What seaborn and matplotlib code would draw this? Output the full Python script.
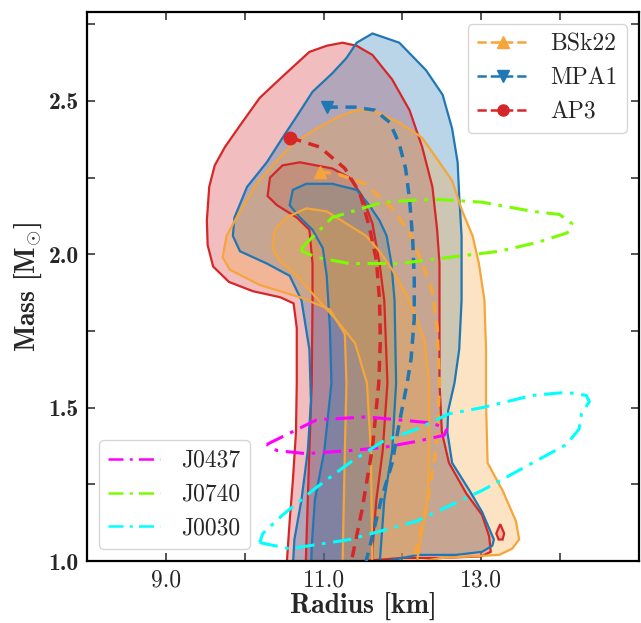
import numpy as np
import pandas as pd
import matplotlib
matplotlib.use("Agg")
import matplotlib.pyplot as plt
import seaborn as sns

# ---------------- data ----------------
# Posterior contours (outer = 95%, inner = 68%), radius [km] / mass [Msun]
red_outer_R = [10.53, 10.57, 10.61, 10.65, 10.66, 10.66, 10.62, 10.45, 10.10, 9.80, 9.60, 9.53, 9.52, 9.55,
               9.62, 9.75, 9.94, 10.19, 10.48, 10.82, 11.04, 11.24, 11.42, 11.62, 11.87, 12.09, 12.25,
               12.38, 12.44, 12.47, 12.47, 12.47, 12.50, 12.59, 12.81, 13.01, 13.10, 13.12, 13.00,
               12.50, 12.00, 11.50, 11.00]
red_outer_M = [0.98, 1.13, 1.26, 1.42, 1.58, 1.76, 1.84, 1.86, 1.88, 1.91, 1.96, 2.03, 2.11, 2.22,
               2.29, 2.35, 2.42, 2.51, 2.58, 2.66, 2.68, 2.69, 2.68, 2.65, 2.57, 2.47, 2.35,
               2.22, 2.08, 1.97, 1.76, 1.58, 1.42, 1.32, 1.22, 1.15, 1.08, 1.03, 1.015,
               1.01, 1.01, 1.00, 0.98]
red_blob_R = [13.19, 13.24, 13.29, 13.27, 13.22]
red_blob_M = [1.09, 1.12, 1.09, 1.07, 1.07]
red_inner_R = [10.70, 10.48, 10.32, 10.29, 10.41, 10.66, 10.82, 10.86, 10.86, 10.85, 10.82, 10.80, 10.78,
               10.77, 11.62, 11.62, 11.67, 11.75, 11.81, 11.77, 11.71, 11.62, 11.49, 11.33, 11.11]
red_inner_M = [2.30, 2.29, 2.25, 2.19, 2.16, 2.12, 2.08, 1.97, 1.85, 1.58, 1.36, 1.20, 1.04,
               0.95, 0.95, 1.04, 1.20, 1.36, 1.58, 1.85, 1.97, 2.10, 2.19, 2.25, 2.28]

blue_outer_R = [10.61, 10.63, 10.72, 10.80, 10.84, 10.82, 10.72, 10.57, 10.28, 9.94, 9.85, 9.87, 10.03,
                10.28, 10.48, 10.66, 10.86, 11.11, 11.29, 11.42, 11.62, 11.96, 12.30, 12.51, 12.63,
                12.70, 12.72, 12.75, 12.75, 12.72, 12.66, 12.58, 12.57, 12.63, 12.85, 13.01, 13.16,
                13.14, 13.01, 12.68, 12.20, 11.80, 11.00]
blue_outer_M = [0.98, 1.07, 1.20, 1.36, 1.52, 1.69, 1.85, 1.93, 1.97, 2.01, 2.06, 2.12, 2.22,
                2.30, 2.38, 2.45, 2.53, 2.59, 2.64, 2.69, 2.72, 2.69, 2.60, 2.52, 2.41,
                2.30, 2.19, 2.06, 1.85, 1.69, 1.58, 1.49, 1.42, 1.32, 1.23, 1.16, 1.07,
                1.05, 1.03, 1.02, 1.02, 1.00, 0.98]
blue_inner_R = [10.78, 10.61, 10.57, 10.70, 10.86, 10.99, 11.04, 11.08, 11.10, 11.01, 10.89, 10.85, 10.84,
                11.70, 11.77, 11.87, 11.92, 11.90, 11.86, 11.80, 11.71, 11.58, 11.42, 11.11]
blue_inner_M = [2.23, 2.21, 2.16, 2.12, 2.08, 2.02, 1.93, 1.76, 1.58, 1.36, 1.20, 1.05, 0.95,
                0.95, 1.20, 1.36, 1.58, 1.85, 1.97, 2.06, 2.11, 2.16, 2.21, 2.23]

orange_outer_R = [11.24, 11.27, 11.29, 11.27, 11.08, 10.70, 10.19, 9.81, 9.72, 9.77, 9.94, 10.15, 10.35,
                  10.61, 10.91, 11.20, 11.42, 11.62, 11.96, 12.25, 12.47, 12.63, 12.76, 12.89, 12.97,
                  13.04, 13.06, 13.06, 13.08, 13.27, 13.44, 13.48, 13.39, 13.23, 12.50, 11.80]
orange_outer_M = [0.98, 1.36, 1.58, 1.74, 1.82, 1.86, 1.90, 1.95, 1.99, 2.06, 2.14, 2.23, 2.29,
                  2.36, 2.41, 2.45, 2.47, 2.47, 2.43, 2.38, 2.30, 2.24, 2.14, 2.06, 1.97,
                  1.85, 1.69, 1.52, 1.32, 1.23, 1.13, 1.07, 1.04, 1.02, 1.01, 0.98]
orange_inner_R = [11.62, 11.60, 11.55, 11.40, 11.15, 10.90, 10.66, 10.44, 10.35, 10.38, 10.53, 10.78, 11.04,
                  11.29, 11.54, 11.71, 11.87, 12.09, 12.28, 12.34, 12.34, 12.32, 12.22, 12.15]
orange_inner_M = [0.95, 1.36, 1.58, 1.71, 1.79, 1.86, 1.93, 1.98, 2.02, 2.08, 2.12, 2.15, 2.14,
                  2.10, 2.06, 2.01, 1.95, 1.85, 1.72, 1.58, 1.36, 1.20, 1.05, 0.95]

# EOS mass-radius curves (first point = maximum mass, where the marker sits)
bsk22_R = [10.95, 11.20, 11.52, 11.87, 12.09, 12.25, 12.38, 12.44, 12.47, 12.43, 12.30, 12.18, 12.15]
bsk22_M = [2.27, 2.26, 2.23, 2.15, 2.07, 1.97, 1.88, 1.76, 1.58, 1.37, 1.17, 1.04, 1.00]
mpa1_R = [11.04, 11.39, 11.65, 11.84, 11.96, 12.04, 12.09, 12.13, 12.15, 12.15, 12.11, 12.06, 11.96,
          11.87, 11.73, 11.58, 11.54]
mpa1_M = [2.48, 2.48, 2.47, 2.43, 2.36, 2.28, 2.18, 2.05, 1.92, 1.79, 1.66, 1.58, 1.45,
          1.32, 1.20, 1.04, 1.00]
ap3_R = [10.58, 10.95, 11.27, 11.46, 11.58, 11.67, 11.71, 11.72, 11.70, 11.62, 11.49, 11.37, 11.35]
ap3_M = [2.38, 2.35, 2.28, 2.20, 2.09, 1.98, 1.85, 1.72, 1.58, 1.37, 1.17, 1.02, 1.00]

# NICER pulsar credible regions
j0437_R = [10.28, 10.91, 11.54, 11.96, 12.38, 12.56, 12.53, 12.18, 11.75, 11.33, 10.78, 10.41, 10.28]
j0437_M = [1.38, 1.46, 1.47, 1.46, 1.45, 1.43, 1.41, 1.39, 1.37, 1.36, 1.35, 1.36, 1.38]
j0740_R = [10.72, 11.11, 11.75, 12.38, 13.01, 13.65, 13.99, 14.15, 14.09, 13.73, 13.23, 12.59, 11.96,
           11.33, 10.91, 10.73, 10.72]
j0740_M = [2.02, 2.12, 2.17, 2.18, 2.17, 2.14, 2.13, 2.10, 2.07, 2.04, 2.01, 1.99, 1.97,
           1.97, 1.99, 2.01, 2.02]
j0030_R = [10.19, 10.57, 11.33, 12.18, 13.01, 13.65, 14.08, 14.24, 14.27, 14.37, 14.33, 14.08, 13.65,
           13.01, 12.59, 12.18, 11.75, 11.33, 10.91, 10.48, 10.23, 10.19]
j0030_M = [1.06, 1.04, 1.07, 1.13, 1.23, 1.32, 1.38, 1.43, 1.48, 1.52, 1.54, 1.55, 1.54,
           1.50, 1.48, 1.43, 1.39, 1.32, 1.24, 1.15, 1.09, 1.06]

x_ticks = [9, 10, 11, 12, 13, 14]
x_ticklabels = ["9.0", "", "11.0", "", "13.0", ""]
y_ticks = [1.0, 1.25, 1.5, 1.75, 2.0, 2.25, 2.5, 2.75]
y_ticklabels = ["1.0", "", "1.5", "", "2.0", "", "2.5", ""]

# ---------------- style ----------------
sns.set_theme(style="ticks")
plt.rcParams.update({
    "font.family": ["serif"],
    "font.serif": ["cmr10", "DejaVu Serif"],
    "mathtext.fontset": "cm",
    "axes.unicode_minus": False,
    "axes.formatter.use_mathtext": True,
    "xtick.direction": "in",
    "ytick.direction": "in",
    "xtick.top": True,
    "ytick.right": True,
})

RED = "#d62728"
BLUE = "#1f77b4"
ORANGE = "#f5a53a"

fig = plt.figure(figsize=(6.41, 6.23), dpi=100)
ax = fig.add_axes([0.1357, 0.0995, 0.8612, 0.8812])

def contour(Rs, Ms, color, alpha=0.3):
    ax.fill(Rs, Ms, facecolor=color, alpha=alpha, edgecolor="none", zorder=1)
    ax.fill(Rs, Ms, facecolor="none", edgecolor=color, lw=1.6, zorder=2)

contour(red_outer_R, red_outer_M, RED)
contour(red_inner_R, red_inner_M, RED)
contour(red_blob_R, red_blob_M, RED)
contour(blue_outer_R, blue_outer_M, BLUE)
contour(blue_inner_R, blue_inner_M, BLUE)
contour(orange_outer_R, orange_outer_M, ORANGE)
contour(orange_inner_R, orange_inner_M, ORANGE)

# EOS curves
eos = [("BSk22", bsk22_R, bsk22_M, ORANGE, "^"),
       ("MPA1", mpa1_R, mpa1_M, BLUE, "v"),
       ("AP3", ap3_R, ap3_M, RED, "o")]
eos_handles = []
for name, Rs, Ms, c, mk in eos:
    df = pd.DataFrame({"R": Rs, "M": Ms})
    sns.lineplot(data=df, x="R", y="M", sort=False, estimator=None, ax=ax,
                 color=c, lw=2.5, linestyle=(0, (3.2, 2.2)), zorder=4)
    ax.plot([Rs[0]], [Ms[0]], marker=mk, color=c, ms=9, zorder=5, linestyle="none")
    h, = ax.plot([], [], color=c, lw=1.8, linestyle="--", marker=mk, ms=8, label=name)
    eos_handles.append(h)

# pulsars
psr = [("J0437", j0437_R, j0437_M, "magenta"),
       ("J0740", j0740_R, j0740_M, "#7cfc00"),
       ("J0030", j0030_R, j0030_M, "cyan")]
dashdot = (0, (6, 2.5, 1.2, 2.5))
psr_handles = []
for name, Rs, Ms, c in psr:
    df = pd.DataFrame({"R": Rs, "M": Ms})
    sns.lineplot(data=df, x="R", y="M", sort=False, estimator=None, ax=ax,
                 color=c, lw=2.2, linestyle=dashdot, zorder=6)
    h, = ax.plot([], [], color=c, lw=1.8, linestyle=dashdot, label=name)
    psr_handles.append(h)

ax.set_xlim(8, 15)
ax.set_ylim(1.0, 2.79)
ax.set_xticks(x_ticks)
ax.set_xticklabels(x_ticklabels, fontsize=17)
ax.set_yticks(y_ticks)
ax.set_yticklabels(y_ticklabels, fontsize=17, family="cmb10")
ax.tick_params(axis="both", which="major", length=6, width=1.1, pad=6)
for s in ax.spines.values():
    s.set_linewidth(1.6)
    s.set_color("black")
ax.set_xlabel(r"Radius [km]", fontsize=20, family="cmb10", labelpad=0)
ax.set_ylabel(r"Mass [$\mathbf{M}_{\odot}$]", fontsize=20, family="cmb10", labelpad=3)

leg_kw = dict(fontsize=17, handlelength=2.2, handletextpad=0.9, borderpad=0.4,
              borderaxespad=0.5, labelspacing=0.5, fancybox=True)
leg1 = ax.legend(handles=eos_handles, loc="upper right", **leg_kw)
ax.add_artist(leg1)
ax.legend(handles=psr_handles, loc="lower left", **leg_kw)

fig.savefig("out.png", dpi=100)
